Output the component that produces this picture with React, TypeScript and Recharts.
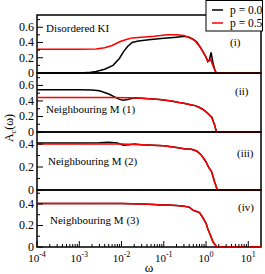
import React from 'react';
import { LineChart, Line, XAxis, YAxis, ReferenceArea } from 'recharts';

const FONT = '"Liberation Serif", "Times New Roman", serif';

// omega grids and A_c values
const w1Black = [1e-4, 1e-3, 1.6e-3, 2.5e-3, 4e-3, 6.3e-3, 8.9e-3, 0.0112, 0.0141, 0.0178, 0.025, 0.05, 0.1, 0.2, 0.3, 0.4, 0.5, 0.6, 0.75, 0.9, 1.0, 1.1, 1.2, 1.32, 1.45, 1.6, 1.74, 20];
const a1Black = [0, 0, 0.005, 0.02, 0.05, 0.1, 0.19, 0.28, 0.35, 0.4, 0.42, 0.44, 0.455, 0.47, 0.48, 0.47, 0.44, 0.41, 0.33, 0.25, 0.21, 0.15, 0.17, 0.27, 0.14, 0.05, 0, 0];
const w1Red = [1e-4, 1e-3, 2.5e-3, 4e-3, 6e-3, 9e-3, 0.013, 0.018, 0.03, 0.06, 0.12, 0.2, 0.3, 0.45, 0.55, 0.7, 0.85, 1.0, 1.1, 1.2, 1.3, 1.4, 1.55, 1.74, 20];
const a1Red = [0.31, 0.31, 0.315, 0.33, 0.36, 0.41, 0.44, 0.46, 0.47, 0.48, 0.5, 0.5, 0.49, 0.45, 0.42, 0.35, 0.28, 0.21, 0.15, 0.16, 0.18, 0.12, 0.06, 0, 0];

const w2Black = [1e-4, 1e-3, 2e-3, 3e-3, 5e-3, 7e-3, 9e-3, 0.011, 0.014, 0.02, 0.03, 0.08, 0.15, 0.23, 0.3, 0.4, 0.55, 0.7, 0.85, 1.0, 1.15, 1.3, 1.38, 1.5, 1.6, 1.76, 20];
const a2Black = [0.545, 0.545, 0.54, 0.53, 0.49, 0.45, 0.42, 0.41, 0.42, 0.44, 0.435, 0.42, 0.4, 0.38, 0.37, 0.355, 0.34, 0.315, 0.29, 0.26, 0.23, 0.2, 0.19, 0.13, 0.09, 0, 0];
const w2Red = [1e-4, 5e-3, 0.015, 0.03, 0.08, 0.15, 0.23, 0.3, 0.4, 0.55, 0.7, 0.85, 1.0, 1.15, 1.35, 1.5, 1.6, 1.76, 20];
const a2Red = [0.445, 0.445, 0.44, 0.435, 0.42, 0.4, 0.38, 0.37, 0.355, 0.34, 0.315, 0.29, 0.26, 0.23, 0.19, 0.13, 0.09, 0, 0];

const w3Black = [1e-4, 1e-3, 3e-3, 5e-3, 8e-3, 0.011, 0.015, 0.02, 0.03, 0.1, 0.2, 0.3, 0.45, 0.6, 0.75, 0.9, 1.0, 1.15, 1.35, 1.6, 1.85, 20];
const a3Black = [0.41, 0.41, 0.412, 0.415, 0.41, 0.39, 0.395, 0.4, 0.395, 0.385, 0.37, 0.36, 0.355, 0.34, 0.31, 0.27, 0.245, 0.2, 0.16, 0.07, 0, 0];
const w3Red = [1e-4, 1e-2, 0.03, 0.1, 0.2, 0.3, 0.45, 0.6, 0.75, 0.9, 1.0, 1.15, 1.35, 1.6, 1.85, 20];
const a3Red = [0.4, 0.4, 0.395, 0.385, 0.37, 0.36, 0.355, 0.34, 0.31, 0.27, 0.245, 0.2, 0.16, 0.07, 0, 0];

const w4Black = [1e-4, 1e-2, 0.03, 0.06, 0.08, 0.12, 0.2, 0.3, 0.4, 0.5, 0.6, 0.7, 0.85, 1.0, 1.1, 1.3, 1.45, 1.8, 20];
const a4Black = [0.405, 0.405, 0.4, 0.395, 0.39, 0.39, 0.385, 0.38, 0.37, 0.34, 0.33, 0.32, 0.27, 0.22, 0.17, 0.1, 0.05, 0, 0];
const w4Red = [1e-4, 1e-2, 0.03, 0.06, 0.08, 0.12, 0.2, 0.3, 0.4, 0.5, 0.6, 0.7, 0.85, 1.0, 1.1, 1.3, 1.45, 1.8, 20];
const a4Red = [0.405, 0.405, 0.4, 0.395, 0.39, 0.39, 0.385, 0.38, 0.37, 0.34, 0.33, 0.32, 0.27, 0.22, 0.17, 0.1, 0.05, 0, 0];

const decades = [1e-4, 1e-3, 1e-2, 1e-1, 1, 10];
const decadeExp = ['-4', '-3', '-2', '-1', '0', '1'];
const yTicksTall = [0, 0.1, 0.2, 0.3, 0.4, 0.5, 0.6, 0.7];
const yTicksShort = [0, 0.1, 0.2, 0.3, 0.4, 0.5];
const yLabelled = [0, 0.2, 0.4, 0.6];
const legendNames = ['p = 0.0', 'p = 0.5'];
const panelTitles = ['Disordered KI', 'Neighbouring M (1)', 'Neighbouring M (2)', 'Neighbouring M (3)'];
const panelTags = ['(i)', '(ii)', '(iii)', '(iv)'];

const zip = (w: number[], a: number[]) => w.map((x, i) => ({ w: x, a: a[i] }));

// log minor ticks 2..9 in every decade
const xTicks: number[] = [];
decades.forEach((d, i) => {
  xTicks.push(d);
  if (i < decades.length - 1) for (let k = 2; k <= 9; k++) xTicks.push(k * d);
});

const isDecade = (v: number) => Math.abs(Math.log10(v) - Math.round(Math.log10(v))) < 1e-6;

const panels = [
  { black: zip(w1Black, a1Black), red: zip(w1Red, a1Red), yMax: 0.76, yTicks: yTicksTall, top: 15, h: 58 },
  { black: zip(w2Black, a2Black), red: zip(w2Red, a2Red), yMax: 0.76, yTicks: yTicksTall, top: 73, h: 59 },
  { black: zip(w3Black, a3Black), red: zip(w3Red, a3Red), yMax: 0.505, yTicks: yTicksShort, top: 132, h: 58 },
  { black: zip(w4Black, a4Black), red: zip(w4Red, a4Red), yMax: 0.53, yTicks: yTicksShort, top: 190, h: 57 },
];

const PAD = 8;

function XTick(props: any) {
  const { x, y, payload, showLabel } = props;
  const v = payload.value;
  const major = isDecade(v);
  const idx = decades.findIndex((d) => Math.abs(d - v) / d < 1e-6);
  return (
    <g>
      <line x1={x} x2={x} y1={y} y2={y - (major ? 6 : 3)} stroke="#000" strokeWidth={1} />
      {showLabel && major && idx >= 0 && (
        <text x={x} y={y + 15} textAnchor="middle" fontSize={11} fontFamily={FONT} fill="#000">
          10<tspan dy={-5} fontSize={8}>{decadeExp[idx]}</tspan>
        </text>
      )}
    </g>
  );
}

function YTick(props: any) {
  const { x, y, payload } = props;
  const v = payload.value;
  const major = yLabelled.includes(v);
  return (
    <g>
      <line x1={x} x2={x + (major ? 6 : 3)} y1={y} y2={y} stroke="#000" strokeWidth={1} />
      {major && (
        <text x={x - 3} y={y + 4} textAnchor="end" fontSize={12} fontFamily={FONT} fill="#000">
          {v === 0 ? '0' : String(v)}
        </text>
      )}
    </g>
  );
}

function Panel({ p, last }: { p: (typeof panels)[number]; last: boolean }) {
  const axisH = last ? 27 : 0;
  const bottom = last ? 0 : PAD;
  const height = PAD + p.h + bottom + axisH;
  return (
    <div style={{ position: 'absolute', left: 0, top: p.top - PAD }}>
      <LineChart width={265} height={height} margin={{ top: PAD, right: 4, bottom, left: 0 }}>
        <XAxis
          dataKey="w"
          type="number"
          scale="log"
          domain={[1e-4, 20]}
          ticks={xTicks}
          interval={0}
          height={axisH}
          axisLine={false}
          tickLine={false}
          tickSize={0}
          tickMargin={0}
          tick={(t: any) => <XTick {...t} showLabel={last} />}
        />
        <YAxis
          type="number"
          domain={[0, p.yMax]}
          ticks={p.yTicks}
          interval={0}
          width={37}
          axisLine={false}
          tickLine={false}
          tickSize={0}
          tickMargin={0}
          tick={(t: any) => <YTick {...t} />}
        />
        <ReferenceArea x1={1e-4} x2={20} y1={0} y2={p.yMax} fill="none" stroke="#000" strokeWidth={1.5} ifOverflow="visible" />
        <Line data={p.black} dataKey="a" stroke="#000" strokeWidth={1.5} dot={false} isAnimationActive={false} />
        <Line data={p.red} dataKey="a" stroke="#ff0000" strokeWidth={1.5} dot={false} isAnimationActive={false} />
      </LineChart>
    </div>
  );
}

const titlePos = [
  { x: 46, y: 32 },
  { x: 46, y: 113 },
  { x: 48, y: 165 },
  { x: 50, y: 224 },
];
const tagPos = [
  { x: 230, y: 46 },
  { x: 235, y: 95 },
  { x: 237, y: 157 },
  { x: 238, y: 211 },
];

export default function App() {
  return (
    <div style={{ position: 'absolute', left: 0, top: 0, width: 265, height: 274, background: '#fff', fontFamily: FONT, overflow: 'hidden' }}>
      {panels.map((p, i) => (
        <Panel key={i} p={p} last={i === panels.length - 1} />
      ))}
      <svg width={265} height={274} style={{ position: 'absolute', left: 0, top: 0, pointerEvents: 'none' }}>
        {panelTitles.map((t, i) => (
          <text key={t} x={titlePos[i].x} y={titlePos[i].y} fontSize={11} fontFamily={FONT} fill="#000">
            {t}
          </text>
        ))}
        {panelTags.map((t, i) => (
          <text key={t} x={tagPos[i].x} y={tagPos[i].y} fontSize={11} fontFamily={FONT} fill="#000">
            {t}
          </text>
        ))}
        <text x={149} y={272} textAnchor="middle" fontSize={13} fontFamily={FONT} fill="#000">
          ω
        </text>
        <text transform="translate(13,128) rotate(-90)" textAnchor="middle" fontSize={12} fontFamily={FONT} fill="#000">
          A<tspan fontSize={8} dy={3}>c</tspan>
          <tspan dy={-3}>(ω)</tspan>
        </text>
        <rect x={206} y={0.5} width={56.5} height={30.5} fill="#fff" stroke="#000" strokeWidth={1} />
        <line x1={212} x2={223} y1={10} y2={10} stroke="#000" strokeWidth={1.5} />
        <line x1={212} x2={223} y1={23} y2={23} stroke="#ff0000" strokeWidth={1.5} />
        <text x={230} y={14} fontSize={11.5} fontFamily={FONT} fill="#000">
          {legendNames[0]}
        </text>
        <text x={230} y={27} fontSize={11.5} fontFamily={FONT} fill="#000">
          {legendNames[1]}
        </text>
      </svg>
    </div>
  );
}
